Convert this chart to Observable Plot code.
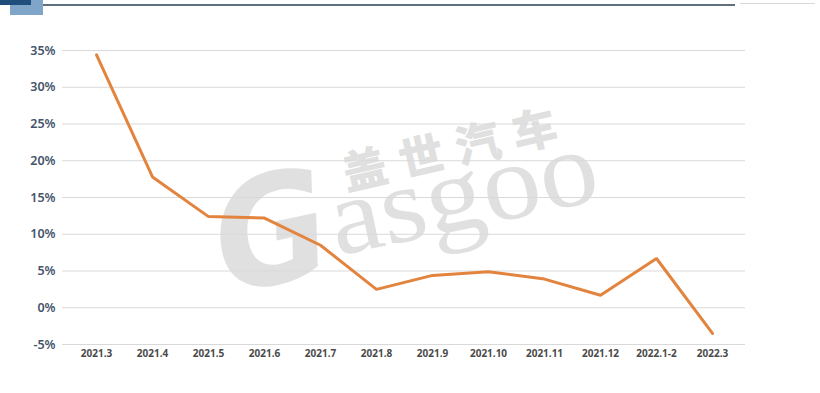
<!DOCTYPE html>
<html>
<head>
<meta charset="utf-8">
<script src="https://cdn.jsdelivr.net/npm/d3@7"></script>
<script src="https://cdn.jsdelivr.net/npm/@observablehq/plot@0.6"></script>
<style>
  html, body { margin: 0; padding: 0; background: #fff; }
  #wrap { position: relative; width: 820px; height: 393px; overflow: hidden; }
  #chart { position: absolute; left: 0; top: 0; }
  .deco { position: absolute; }
  #wm { position: absolute; left: 0; top: 0; }
</style>
</head>
<body>
<div id="wrap">
  <div class="deco" style="left:10px;top:0;width:33px;height:15px;background:#7fa6c8;"></div>
  <div class="deco" style="left:0;top:0;width:31px;height:5px;background:#1f4e7d;"></div>
  <div class="deco" style="left:43px;top:4px;width:692px;height:2px;background:#5f6f7c;"></div>
  <div class="deco" style="left:740px;top:3px;width:75px;height:1px;background:#d8d8d8;"></div>
  <svg id="wm" width="820" height="393">
    <text x="226" y="294" transform="rotate(-12 226 294)" font-family="'DejaVu Sans'" font-weight="700" font-style="italic" font-size="150" fill="#e0e0e0" textLength="115" lengthAdjust="spacingAndGlyphs">G</text>
    <text x="337" y="256" transform="rotate(-12 337 256)" font-family="'Liberation Serif'" font-size="108" fill="#e0e0e0" textLength="272" lengthAdjust="spacingAndGlyphs">asgoo</text>
    <text x="347" y="190" transform="rotate(-13 347 190)" font-family="'Noto Sans CJK SC'" font-weight="700" font-size="44" fill="#e0e0e0" stroke="#e0e0e0" stroke-width="1.2" textLength="218" lengthAdjust="spacing">盖世汽车</text>
  </svg>
  <div id="chart"></div>
</div>
<script>
const months = ["2021.3","2021.4","2021.5","2021.6","2021.7","2021.8","2021.9","2021.10","2021.11","2021.12","2022.1-2","2022.3"];
const growth = [34.4, 17.8, 12.4, 12.2, 8.5, 2.5, 4.4, 4.9, 3.9, 1.7, 6.7, -3.5];
const yTicks = [-5, 0, 5, 10, 15, 20, 25, 30, 35];

const data = months.map((m, i) => ({month: m, value: growth[i]}));

const chart = Plot.plot({
  width: 820,
  height: 393,
  marginLeft: 62,
  marginRight: 75,
  marginTop: 50,
  marginBottom: 49,
  style: {background: "transparent", overflow: "visible"},
  x: {type: "point", domain: months, padding: 0.5, label: null},
  y: {domain: [-5, 35], label: null},
  marks: [
    Plot.gridY(yTicks, {stroke: "#d9d9d9", strokeOpacity: 1, strokeWidth: 1}),
    Plot.axisY(yTicks, {
      tickSize: 0, tickPadding: 7, tickFormat: d => d + "%",
      fontSize: 12.5, fontWeight: 600, fill: "#44546a",
      fontFamily: "'Noto Sans', sans-serif"
    }),
    Plot.axisX(months, {
      tickSize: 0, tickPadding: 5,
      fontSize: 10, fontWeight: 700, fill: "#4a4a4a",
      fontFamily: "'Noto Sans', sans-serif"
    }),
    Plot.line(data, {x: "month", y: "value", stroke: "#e3843e", strokeWidth: 3, strokeLinejoin: "miter"})
  ]
});
document.getElementById("chart").appendChild(chart);
</script>
</body>
</html>
